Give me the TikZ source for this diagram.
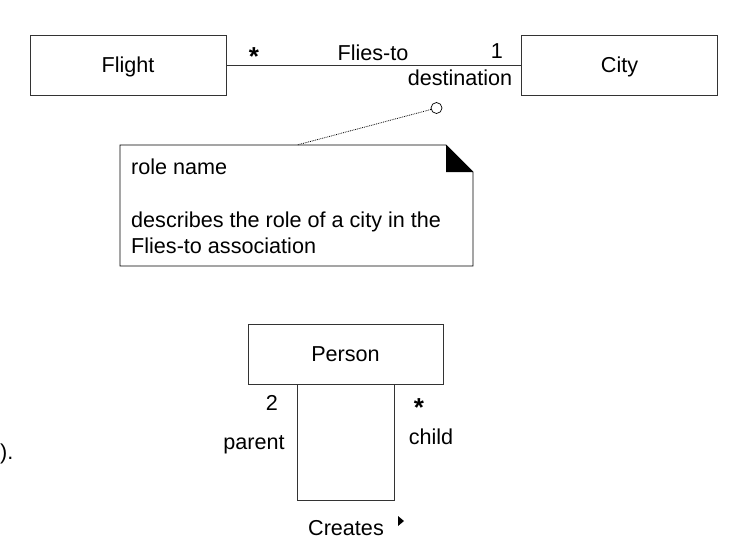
\documentclass[tikz,border=0pt]{standalone}
\usepackage{fontspec}
\setmainfont{Liberation Sans}
\begin{document}
\begin{tikzpicture}[x=1pt,y=-1pt,
  every node/.style={font=\fontsize{21.6}{26}\selectfont, inner sep=0pt, text=black},
  cls/.style={draw=black!80, line width=0.9pt, minimum width=196pt, minimum height=60pt},
  lbl/.style={anchor=base},
  mult/.style={font=\fontsize{26}{26}\selectfont\bfseries},
  ln/.style={draw=black!80, line width=0.9pt}]
\useasboundingbox (0,0) rectangle (739,555);
% classes
\node[cls] (flight) at (128,65) {};
\node[lbl] (flighttxt) at (128,72) {Flight};
\node[cls] (city) at (619.5,65) {};
\node[lbl] (citytxt) at (619.5,72) {City};
\draw[ln] (flight) -- (city);
\node[mult] (star1) at (254,57) {*};
\node[lbl] (fliesto) at (373,60) {Flies-to};
\node[lbl] (one) at (497,58) {1};
\node[lbl] (dest) at (460,85) {destination};
% note
\node[draw=black, line width=0.7pt, circle, minimum size=11pt, fill=white] (knob) at (436.5,108) {};
\coordinate (nt) at (297,145);
\draw[black, line width=0.8pt, dash pattern=on 0.8pt off 1pt] (knob) -- (nt);
\draw[black, line width=0.8pt] (120,145) -- (446,145) -- (473,172) -- (473,266) -- (120,266) -- cycle;
\fill[black] (446,145) -- (473,172) -- (446,172) -- cycle;
\node[anchor=base west] (n1) at (131,174) {role name};
\node[anchor=base west] (n2) at (131,227) {describes the role of a city in the};
\node[anchor=base west] (n3) at (131,253) {Flies-to association};
% person
\node[cls, minimum width=195pt] (person) at (345.5,354) {};
\node[lbl] (persontxt) at (345.5,361) {Person};
\coordinate (pl) at (297,384);
\coordinate (pr) at (394,384);
\draw[ln] (pl) -- (297,500) -- (394,500) -- (pr);
\node[lbl] (two) at (272,410) {2};
\node[lbl] (parent) at (254,449) {parent};
\node[mult] (star2) at (419,408) {*};
\node[lbl] (child) at (431,444) {child};
\node[lbl] (creates) at (346,535) {Creates};
\fill[black] (398,516) -- (404,521) -- (398,526) -- cycle;
\node[anchor=base west] (frag) at (0,459) {).};
\end{tikzpicture}
\end{document}
